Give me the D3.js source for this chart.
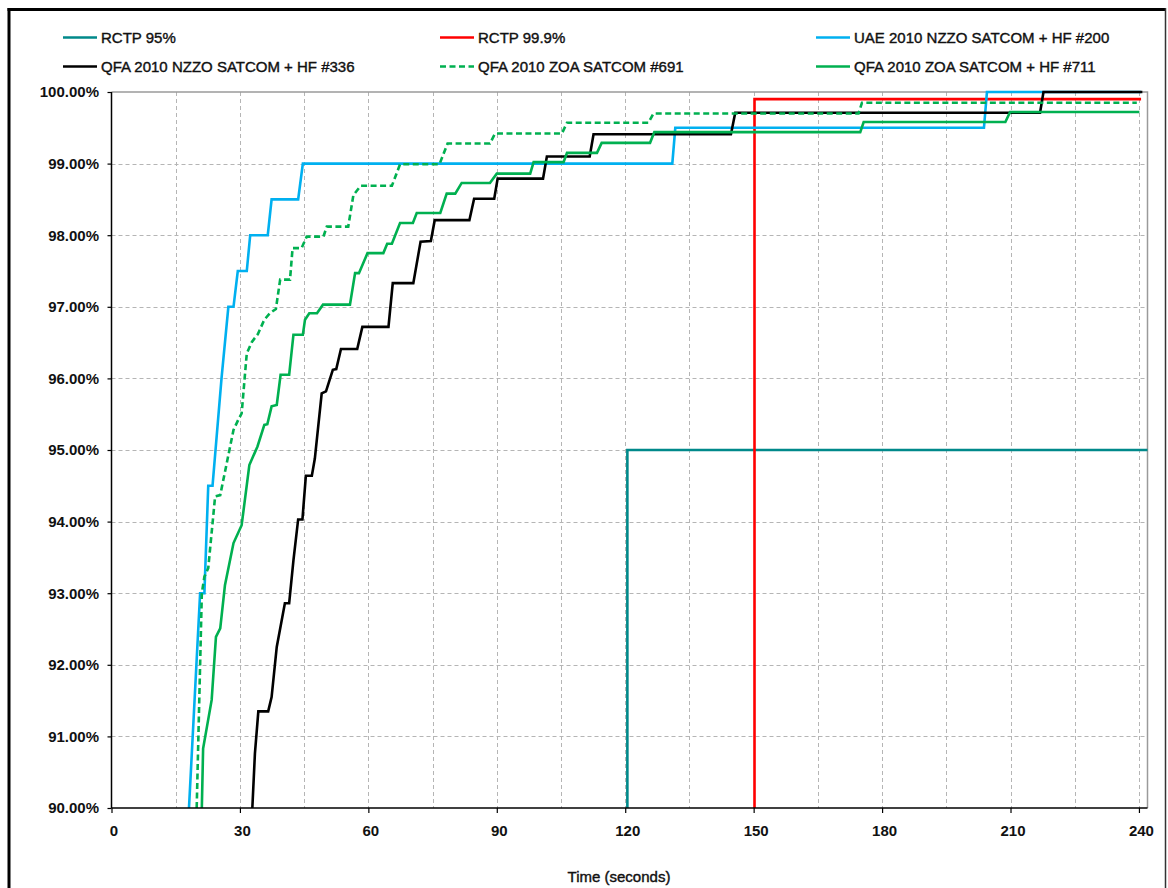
<!DOCTYPE html>
<html>
<head>
<meta charset="utf-8">
<script src="https://cdn.jsdelivr.net/npm/d3@7/dist/d3.min.js"></script>
<style>
  html, body { margin: 0; padding: 0; background: #fff; }
  svg { display: block; font-family: "Liberation Sans", Arial, sans-serif; }
</style>
</head>
<body>
<svg id="chart" width="1168" height="888"></svg>
<script>
// ---------- data ----------
const xTicks = [0, 30, 60, 90, 120, 150, 180, 210, 240];
const yTicks = [90, 91, 92, 93, 94, 95, 96, 97, 98, 99, 100];
const xTitle = "Time (seconds)";

const legendLabels = [
  "RCTP 95%", "RCTP 99.9%", "UAE 2010 NZZO SATCOM + HF #200",
  "QFA 2010 NZZO SATCOM + HF #336", "QFA 2010 ZOA SATCOM #691", "QFA 2010 ZOA SATCOM + HF #711"
];

const rctp95T = [120.5, 120.5, 242];
const rctp95P = [90, 95, 95];

const rctp999T = [150.2, 150.2, 240.5];
const rctp999P = [90, 99.9, 99.9];

const uaeT = [18.1, 20.7, 21.7, 22.6, 23.6, 25.7, 27.3, 28.5, 29.5, 31.6, 32.4, 36.5, 37.4, 43.6, 44.7, 131.0, 131.7, 203.8, 204.5, 240.5];
const uaeP = [90.0, 93.0, 93.0, 94.5, 94.5, 96.0, 97.0, 97.0, 97.5, 97.5, 98.0, 98.0, 98.5, 98.5, 99.0, 99.0, 99.5, 99.5, 100, 100];

const qfa336T = [32.9, 33.5, 34.3, 36.6, 37.4, 38.6, 40.5, 41.5, 42.5, 43.6, 44.6, 45.4, 46.8, 47.5, 49.1, 50.1, 51.7, 52.5, 53.6, 57.4, 58.6, 64.7, 65.7, 70.5, 72.2, 74.6, 75.5, 83.6, 84.7, 89.4, 90.2, 100.8, 101.7, 111.7, 112.6, 144.7, 145.7, 216.9, 217.7, 240.8];
const qfa336P = [90.0, 90.76, 91.35, 91.35, 91.55, 92.25, 92.86, 92.86, 93.46, 94.03, 94.03, 94.64, 94.64, 94.88, 95.79, 95.82, 96.12, 96.13, 96.41, 96.41, 96.72, 96.72, 97.33, 97.33, 97.91, 97.92, 98.21, 98.21, 98.51, 98.51, 98.79, 98.79, 99.1, 99.1, 99.41, 99.41, 99.71, 99.71, 100, 100];

const qfa691T = [19.9, 21.1, 21.7, 22.6, 24.2, 25.4, 26.9, 28.5, 29.6, 30.4, 31.6, 32.8, 34.2, 35.7, 37.0, 38.4, 39.4, 41.7, 42.3, 44.4, 45.6, 49.5, 50.3, 55.3, 56.5, 58.2, 65.5, 67.4, 76.6, 78.5, 88.4, 89.6, 105.2, 106.4, 125.4, 126.6, 174.5, 175.3, 239.5];
const qfa691P = [90.0, 93.0, 93.23, 93.35, 94.35, 94.37, 94.81, 95.28, 95.42, 95.51, 96.35, 96.51, 96.62, 96.82, 96.91, 96.97, 97.38, 97.38, 97.82, 97.82, 97.98, 97.98, 98.12, 98.12, 98.56, 98.69, 98.69, 98.99, 98.99, 99.28, 99.28, 99.42, 99.42, 99.57, 99.57, 99.70, 99.70, 99.85, 99.85];

const qfa711T = [21.1, 21.4, 23.4, 24.4, 25.4, 26.5, 28.5, 30.4, 32.2, 34.1, 35.7, 36.4, 37.4, 38.6, 39.5, 41.5, 42.5, 44.7, 45.2, 46.2, 48.0, 49.4, 55.7, 56.9, 57.8, 59.8, 63.5, 64.4, 65.5, 67.4, 70.4, 71.3, 76.8, 78.3, 80.3, 81.8, 88.4, 90.0, 97.8, 98.6, 105.6, 106.4, 113.4, 114.5, 125.8, 126.8, 174.9, 175.7, 208.8, 209.9, 240.1];
const qfa711P = [90.0, 90.83, 91.51, 92.39, 92.51, 93.11, 93.7, 93.95, 94.79, 95.05, 95.35, 95.36, 95.61, 95.63, 96.05, 96.05, 96.61, 96.61, 96.82, 96.91, 96.91, 97.03, 97.03, 97.47, 97.47, 97.75, 97.75, 97.88, 97.88, 98.17, 98.17, 98.31, 98.31, 98.58, 98.58, 98.73, 98.73, 98.86, 98.86, 99.02, 99.02, 99.15, 99.15, 99.29, 99.29, 99.44, 99.44, 99.58, 99.58, 99.72, 99.72];

// ---------- styling / layout ----------
const colors = ["#00898A", "#FF0000", "#00B0F0", "#000000", "#00B050", "#00B050"];
const dashes = [null, null, null, null, "6,3.5", null];

const series = [
  [rctp95T, rctp95P], [rctp999T, rctp999P], [uaeT, uaeP],
  [qfa336T, qfa336P], [qfa691T, qfa691P], [qfa711T, qfa711P]
];

const svg = d3.select("#chart");
const L = 111.5, R = 1147.5, T = 92, B = 808;

const x = d3.scaleLinear().domain([0, 242]).range([L, R]);
const y = d3.scaleLinear().domain([90, 100]).range([B, T]);

// outer frame
svg.append("line").attr("x1", 9).attr("x2", 9).attr("y1", 8).attr("y2", 900)
  .attr("stroke", "#000").attr("stroke-width", 3);
svg.append("line").attr("x1", 7.5).attr("x2", 1166).attr("y1", 9.5).attr("y2", 9.5)
  .attr("stroke", "#000").attr("stroke-width", 3);
svg.append("line").attr("x1", 1165.5).attr("x2", 1165.5).attr("y1", 8).attr("y2", 900)
  .attr("stroke", "#333").attr("stroke-width", 1.5);

// gridlines
const vGrid = d3.range(15, 241, 15);
svg.append("g").selectAll("line").data(vGrid).join("line")
  .attr("x1", d => Math.round(x(d)) + 0.5).attr("x2", d => Math.round(x(d)) + 0.5)
  .attr("y1", T).attr("y2", B)
  .attr("stroke", "#b5b5b5").attr("stroke-width", 1).attr("stroke-dasharray", "4,3");
svg.append("g").selectAll("line").data(yTicks.filter(d => d > 90 && d < 100)).join("line")
  .attr("x1", L).attr("x2", R)
  .attr("y1", d => Math.round(y(d)) + 0.5).attr("y2", d => Math.round(y(d)) + 0.5)
  .attr("stroke", "#b5b5b5").attr("stroke-width", 1).attr("stroke-dasharray", "4,3");

// plot border top/right
svg.append("path")
  .attr("d", `M${L},${y(100)}H${R}V${B}`)
  .attr("fill", "none").attr("stroke", "#9a9a9a").attr("stroke-width", 1.5);

// lines
const line = d3.line().x(d => x(d[0])).y(d => y(d[1]));
series.forEach((s, i) => {
  const pts = s[0].map((t, k) => [t, s[1][k]]);
  svg.append("path").datum(pts)
    .attr("d", line)
    .attr("fill", "none")
    .attr("stroke", colors[i])
    .attr("stroke-width", 2.6)
    .attr("stroke-linejoin", "miter")
    .attr("stroke-dasharray", dashes[i]);
});

// axes
const yAxis = d3.axisLeft(y).tickValues(yTicks).tickFormat(d => d.toFixed(2) + "%")
  .tickSize(4).tickPadding(8.5);
const gy = svg.append("g").attr("transform", `translate(${L},0)`).call(yAxis);
gy.select(".domain").attr("stroke", "#000").attr("stroke-width", 1.5).attr("d", `M0,${T}V${B}`);
gy.selectAll(".tick line").attr("stroke", "#000").attr("stroke-width", 1.2);
gy.selectAll("text").attr("font-size", 15).attr("font-weight", "bold").attr("fill", "#111")
  .attr("font-family", "'Liberation Sans', Arial, sans-serif");

const xAxis = d3.axisBottom(x).tickValues(xTicks).tickFormat(d3.format("d"))
  .tickSize(5).tickPadding(12.8);
const gx = svg.append("g").attr("transform", `translate(0,${B})`).call(xAxis);
gx.select(".domain").attr("stroke", "#000").attr("stroke-width", 1.5).attr("d", `M${L},0H${R}`);
gx.selectAll(".tick line").attr("stroke", "#000").attr("stroke-width", 1.2);
gx.selectAll("text").attr("font-size", 15).attr("font-weight", "bold").attr("fill", "#111")
  .attr("dx", 2)
  .attr("font-family", "'Liberation Sans', Arial, sans-serif");

svg.append("text").attr("x", 619).attr("y", 881.5).attr("text-anchor", "middle")
  .attr("font-size", 15).attr("fill", "#111")
  .attr("stroke", "#111").attr("stroke-width", 0.4).text(xTitle);

// legend
const legX = [63, 440, 816];
const legY = [37.5, 66.5];
legendLabels.forEach((lab, i) => {
  const cx = legX[i % 3], cy = legY[Math.floor(i / 3)];
  const g = svg.append("g");
  g.append("line").attr("x1", cx).attr("x2", cx + 34).attr("y1", cy).attr("y2", cy)
    .attr("stroke", colors[i]).attr("stroke-width", 2.6)
    .attr("stroke-dasharray", dashes[i]);
  g.append("text").attr("x", cx + 38).attr("y", cy + 5.3)
    .attr("font-size", 15).attr("fill", "#111")
    .attr("stroke", "#111").attr("stroke-width", 0.4).text(lab);
});
</script>
</body>
</html>
